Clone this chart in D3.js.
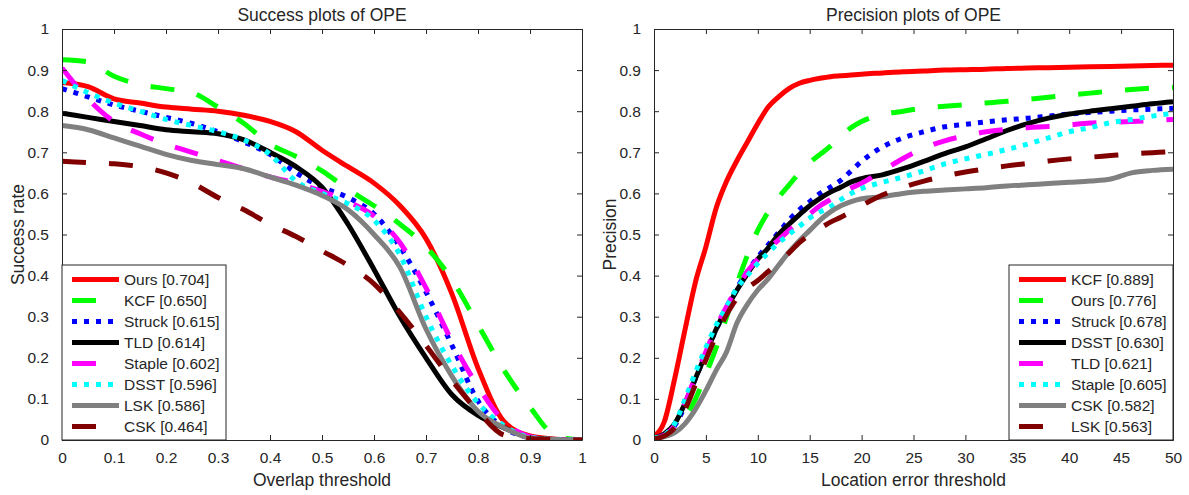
<!DOCTYPE html>
<html><head><meta charset="utf-8">
<script src="https://cdn.jsdelivr.net/npm/d3@7/dist/d3.min.js"></script>
<style>
html,body{margin:0;padding:0;background:#fff;}
svg text{font-family:"Liberation Sans",Arial,sans-serif;fill:#262626;}
</style></head>
<body><svg id="chart" width="1189" height="495"></svg>
<script>
// ---------- DATA ----------
const overlapX = [0,0.05,0.1,0.15,0.2,0.25,0.3,0.35,0.4,0.45,0.5,0.55,0.6,0.65,0.7,0.75,0.8,0.85,0.9,0.95,1];
const succOurs   = [0.87,0.86,0.83,0.82,0.81,0.805,0.80,0.79,0.775,0.75,0.705,0.665,0.625,0.57,0.49,0.355,0.175,0.045,0.01,0.002,0];
const succKCF    = [0.925,0.92,0.885,0.865,0.855,0.845,0.81,0.77,0.72,0.69,0.655,0.61,0.57,0.525,0.47,0.39,0.28,0.17,0.08,0.01,0];
const succStruck = [0.855,0.835,0.815,0.80,0.785,0.77,0.75,0.725,0.695,0.65,0.615,0.59,0.55,0.47,0.36,0.23,0.095,0.03,0.006,0.001,0];
const succTLD    = [0.795,0.785,0.775,0.765,0.755,0.75,0.745,0.73,0.70,0.665,0.615,0.525,0.415,0.30,0.20,0.11,0.06,0.03,0.006,0.001,0];
const succStaple = [0.905,0.83,0.775,0.745,0.72,0.70,0.68,0.66,0.64,0.625,0.605,0.58,0.545,0.48,0.37,0.24,0.13,0.045,0.008,0.001,0];
const succDSST   = [0.875,0.845,0.82,0.80,0.78,0.765,0.75,0.73,0.695,0.63,0.60,0.575,0.535,0.45,0.30,0.18,0.09,0.035,0.006,0.001,0];
const succLSK    = [0.765,0.755,0.735,0.715,0.695,0.68,0.67,0.66,0.64,0.62,0.595,0.56,0.50,0.42,0.27,0.155,0.07,0.03,0.005,0.001,0];
const succCSK    = [0.678,0.675,0.672,0.665,0.65,0.625,0.59,0.56,0.525,0.495,0.46,0.425,0.38,0.31,0.23,0.145,0.07,0.012,0.003,0.001,0];

const locX = [0,1,2,3,4,5,6,7,8,9,10,11,12,13,14,15,16,17,18,19,20,22,24,26,28,30,32,34,36,38,40,42,44,46,48,50];
const precKCF    = [0.01,0.045,0.15,0.27,0.385,0.47,0.565,0.63,0.68,0.725,0.77,0.81,0.835,0.855,0.868,0.875,0.88,0.884,0.886,0.888,0.89,0.893,0.896,0.898,0.90,0.901,0.902,0.904,0.905,0.906,0.907,0.908,0.909,0.91,0.911,0.912];
const precOurs   = [0.005,0.01,0.025,0.055,0.10,0.16,0.225,0.30,0.38,0.45,0.51,0.555,0.59,0.62,0.65,0.675,0.695,0.715,0.74,0.76,0.775,0.792,0.80,0.808,0.812,0.816,0.82,0.824,0.829,0.834,0.839,0.844,0.849,0.853,0.856,0.858];
const precStruck = [0.005,0.012,0.035,0.085,0.15,0.21,0.27,0.32,0.37,0.41,0.445,0.475,0.505,0.535,0.56,0.58,0.60,0.615,0.632,0.655,0.678,0.713,0.735,0.75,0.762,0.768,0.774,0.779,0.783,0.788,0.793,0.797,0.80,0.803,0.805,0.807];
const precDSST   = [0.005,0.015,0.04,0.09,0.15,0.21,0.27,0.32,0.365,0.405,0.44,0.467,0.50,0.525,0.548,0.57,0.588,0.603,0.615,0.628,0.636,0.645,0.66,0.678,0.697,0.713,0.733,0.753,0.77,0.783,0.793,0.80,0.806,0.812,0.818,0.823];
const precTLD    = [0.005,0.012,0.035,0.09,0.155,0.215,0.275,0.325,0.37,0.41,0.44,0.465,0.487,0.51,0.53,0.55,0.57,0.585,0.60,0.613,0.625,0.655,0.685,0.71,0.728,0.74,0.75,0.756,0.76,0.763,0.767,0.771,0.773,0.775,0.777,0.78];
const precStaple = [0.005,0.012,0.04,0.10,0.165,0.225,0.28,0.325,0.37,0.40,0.43,0.455,0.48,0.50,0.52,0.54,0.555,0.568,0.585,0.60,0.612,0.627,0.64,0.655,0.672,0.684,0.695,0.707,0.72,0.735,0.75,0.76,0.772,0.78,0.788,0.795];
const precCSK    = [0.003,0.008,0.018,0.04,0.075,0.12,0.17,0.215,0.285,0.33,0.365,0.392,0.425,0.457,0.485,0.51,0.535,0.555,0.57,0.58,0.587,0.592,0.60,0.605,0.608,0.611,0.614,0.618,0.621,0.624,0.627,0.63,0.635,0.65,0.656,0.659];
const precLSK    = [0.003,0.01,0.03,0.075,0.135,0.195,0.255,0.305,0.345,0.37,0.388,0.41,0.43,0.455,0.48,0.50,0.515,0.53,0.542,0.555,0.57,0.596,0.615,0.63,0.642,0.652,0.66,0.667,0.673,0.679,0.684,0.688,0.692,0.696,0.699,0.702];

const succNames  = ["Ours [0.704]","KCF [0.650]","Struck [0.615]","TLD [0.614]","Staple [0.602]","DSST [0.596]","LSK [0.586]","CSK [0.464]"];
const precNames  = ["KCF [0.889]","Ours [0.776]","Struck [0.678]","DSST [0.630]","TLD [0.621]","Staple [0.605]","CSK [0.582]","LSK [0.563]"];
const succTicksX = [0,0.1,0.2,0.3,0.4,0.5,0.6,0.7,0.8,0.9,1];
const precTicksX = [0,5,10,15,20,25,30,35,40,45,50];
const ticksY     = [0,0.1,0.2,0.3,0.4,0.5,0.6,0.7,0.8,0.9,1];

// ---------- STYLES ----------
const STY = {
  red:    {color:"#ff0000", dash:null},
  green:  {color:"#00ff00", dash:"24,23"},
  blue:   {color:"#0000ff", dash:"5,7"},
  black:  {color:"#000000", dash:null},
  magenta:{color:"#ff00ff", dash:"24,23"},
  cyan:   {color:"#00ffff", dash:"5,7"},
  gray:   {color:"#808080", dash:null},
  dred:   {color:"#800000", dash:"24,23"}
};
const styleOrder = ["red","green","blue","black","magenta","cyan","gray","dred"];

const svg = d3.select("#chart");

function panel(cfg){
  const {x0,x1,y0,y1,domainX,xs,series,names,ticksX,title,xlabel,ylabel,ylabelX,legendX0} = cfg;
  const x = d3.scaleLinear().domain(domainX).range([x0,x1]);
  const y = d3.scaleLinear().domain([0,1]).range([y1,y0]);
  const g = svg.append("g");
  const clipId = "clip"+Math.round(x0);
  g.append("clipPath").attr("id",clipId).append("rect")
    .attr("x",x0).attr("y",y0).attr("width",x1-x0).attr("height",y1-y0);

  const line = d3.line().x(d=>x(d[0])).y(d=>y(d[1])).curve(d3.curveMonotoneX);
  const lg = g.append("g").attr("clip-path",`url(#${clipId})`);
  series.forEach((vals,i)=>{
    const s = STY[styleOrder[i]];
    lg.append("path")
      .datum(xs.map((v,j)=>[v,vals[j]]))
      .attr("d",line)
      .attr("fill","none")
      .attr("stroke",s.color)
      .attr("stroke-width",5)
      .attr("stroke-linejoin","round")
      .attr("stroke-dasharray",s.dash);
  });

  const axC = "#262626";
  const bottom = d3.axisBottom(x).tickValues(ticksX).tickSizeInner(-5).tickSizeOuter(0).tickPadding(12).tickFormat(d3.format("~g"));
  const top = d3.axisTop(x).tickValues(ticksX).tickSizeInner(-5).tickSizeOuter(0).tickFormat("");
  const left = d3.axisLeft(y).tickValues(ticksY).tickSizeInner(-5).tickSizeOuter(0).tickPadding(13).tickFormat(d3.format("~g"));
  const right = d3.axisRight(y).tickValues(ticksY).tickSizeInner(-5).tickSizeOuter(0).tickFormat("");
  const styleAxis = sel => {
    sel.selectAll("path").attr("stroke",axC).attr("stroke-width",1);
    sel.selectAll("line").attr("stroke",axC).attr("stroke-width",1);
    sel.selectAll("text").attr("font-size",15.5).attr("fill","#333").attr("font-family","Liberation Sans, Arial, sans-serif");
  };
  g.append("g").attr("transform",`translate(0,${y1})`).call(bottom).call(styleAxis);
  g.append("g").attr("transform",`translate(0,${y0})`).call(top).call(styleAxis);
  g.append("g").attr("transform",`translate(${x0},0)`).call(left).call(styleAxis);
  g.append("g").attr("transform",`translate(${x1},0)`).call(right).call(styleAxis);

  g.append("text").attr("x",(x0+x1)/2).attr("y",20.5).attr("text-anchor","middle")
    .attr("font-size",17.5).text(title);
  g.append("text").attr("x",(x0+x1)/2).attr("y",485.5).attr("text-anchor","middle")
    .attr("font-size",17.5).text(xlabel);
  g.append("text").attr("transform",`translate(${ylabelX},${(y0+y1)/2}) rotate(-90)`)
    .attr("text-anchor","middle").attr("font-size",17.5).text(ylabel);

  const lx0 = legendX0, lx1 = legendX0+164, ly0 = 265, ly1 = y1;
  const leg = g.append("g");
  leg.append("rect").attr("x",lx0).attr("y",ly0).attr("width",lx1-lx0).attr("height",ly1-ly0)
    .attr("fill","#fff").attr("stroke",axC).attr("stroke-width",1);
  names.forEach((nm,i)=>{
    const s = STY[styleOrder[i]];
    const yy = 279.5 + i*21;
    leg.append("line").attr("x1",lx0+10).attr("x2",lx0+57).attr("y1",yy).attr("y2",yy)
      .attr("stroke",s.color).attr("stroke-width",5).attr("stroke-dasharray",s.dash);
    leg.append("text").attr("x",lx0+62).attr("y",yy).attr("dy","0.35em")
      .attr("font-size",15.5).text(nm);
  });
}

panel({x0:62,x1:582,y0:29,y1:440,domainX:[0,1],xs:overlapX,
  series:[succOurs,succKCF,succStruck,succTLD,succStaple,succDSST,succLSK,succCSK],
  names:succNames,ticksX:succTicksX,title:"Success plots of OPE",xlabel:"Overlap threshold",
  ylabel:"Success rate",ylabelX:24,legendX0:62});

panel({x0:654,x1:1173,y0:29,y1:440,domainX:[0,50],xs:locX,
  series:[precKCF,precOurs,precStruck,precDSST,precTLD,precStaple,precCSK,precLSK],
  names:precNames,ticksX:precTicksX,title:"Precision plots of OPE",xlabel:"Location error threshold",
  ylabel:"Precision",ylabelX:616,legendX0:1009});
</script>
</body></html>
